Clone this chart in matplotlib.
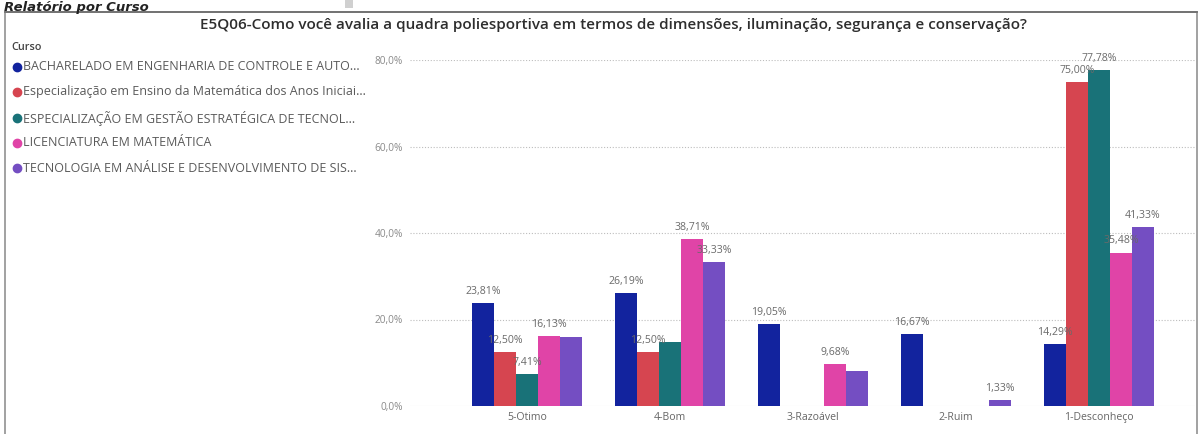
import matplotlib
matplotlib.use("Agg")
import matplotlib.pyplot as plt
from matplotlib.patches import Rectangle
import numpy as np

# ---------------- data ----------------
categories = ["5-Otimo", "4-Bom", "3-Razoável", "2-Ruim", "1-Desconheço"]
series_names = [
    "BACHARELADO EM ENGENHARIA DE CONTROLE E AUTO...",
    "Especialização em Ensino da Matemática dos Anos Iniciai...",
    "ESPECIALIZAÇÃO EM GESTÃO ESTRATÉGICA DE TECNOL...",
    "LICENCIATURA EM MATEMÁTICA",
    "TECNOLOGIA EM ANÁLISE E DESENVOLVIMENTO DE SIS...",
]
bacharelado = [23.81, 26.19, 19.05, 16.67, 14.29]
esp_ensino = [12.50, 12.50, 0.0, 0.0, 75.00]
esp_gestao = [7.41, 14.81, 0.0, 0.0, 77.78]
licenciatura = [16.13, 38.71, 9.68, 0.0, 35.48]
tecnologia = [16.00, 33.33, 8.00, 1.33, 41.33]
series_values = [bacharelado, esp_ensino, esp_gestao, licenciatura, tecnologia]
# data labels hidden by the original chart (category index, series index)
hidden_labels = [(0, 4), (1, 2), (2, 4)]
y_ticks = [0, 20, 40, 60, 80]
y_tick_labels = ["0,0%", "20,0%", "40,0%", "60,0%", "80,0%"]

colors = ["#12239E", "#D64550", "#197278", "#E044A7", "#744EC2"]
title = "E5Q06-Como você avalia a quadra poliesportiva em termos de dimensões, iluminação, segurança e conservação?"
header = "Relatório por Curso"

W, H = 1201, 434
fig = plt.figure(figsize=(W / 100, H / 100), dpi=100)
fig.patch.set_facecolor("white")

def px(x, y):
    return x / W, 1 - y / H

# axes: x from 410 to 1195 px, y from 60 (80%) to 406 (0%)
ax_l, ax_r, ax_t, ax_b = 410, 1195, 60, 406
ax = fig.add_axes([ax_l / W, 1 - ax_b / H, (ax_r - ax_l) / W, (ax_b - ax_t) / H])
ax.set_facecolor("white")

spacing_px = 143.0
first_center = 527.0
x_left = -(first_center - ax_l) / spacing_px
x_right = (len(categories) - 1) + (ax_r - (first_center + spacing_px * (len(categories) - 1))) / spacing_px
ax.set_xlim(x_left, x_right)
ax.set_ylim(0, 80)

bar_w = 22 / spacing_px
n = len(series_values)
x = np.arange(len(categories))
label_font = ["Open Sans", "DejaVu Sans"]
for si, vals in enumerate(series_values):
    offs = (si - (n - 1) / 2) * bar_w
    xs = x + offs
    ax.bar(xs, vals, width=bar_w, color=colors[si], zorder=3, linewidth=0)
    for ci, v in enumerate(vals):
        if v <= 0 or (ci, si) in hidden_labels:
            continue
        ax.text(xs[ci], v + 1.4, f"{v:.2f}%".replace(".", ","), ha="center", va="bottom",
                fontsize=7.6, color="#6a6a6a", family=label_font, zorder=4, clip_on=False)

ax.set_yticks(y_ticks)
ax.set_yticklabels(y_tick_labels, fontsize=7.3, color="#8a8a8a", family=label_font)
ax.set_xticks(x)
ax.set_xticklabels(categories, fontsize=7.6, color="#666666", family=label_font)
ax.tick_params(axis="both", length=0)
ax.tick_params(axis="y", pad=5)
ax.tick_params(axis="x", pad=4)
for ygrid in y_ticks[1:]:
    ax.axhline(ygrid, color="#bdbdbd", linestyle=(0, (1, 1.6)), linewidth=0.8, zorder=1)
ax.axhline(0, color="#e3e3e3", linewidth=0.8, zorder=1)
for sp in ax.spines.values():
    sp.set_visible(False)

# outer frame
frame = Rectangle(px(5, 436), (1197 - 5) / W, (436 - 12) / H, transform=fig.transFigure,
                  fill=False, edgecolor="#9a9a9a", linewidth=1.3, clip_on=False)
fig.patches.append(frame)
fig.add_artist(plt.Line2D([5 / W, 1197 / W], [1 - 12 / H, 1 - 12 / H], transform=fig.transFigure,
                          color="#707070", linewidth=1.3))

# header (at the very top edge, as in the cropped original)
fig.text(*px(4, 10.5), header, fontsize=9.5, fontweight="bold", fontstyle="italic",
         color="#222222", ha="left", va="baseline", family=["DejaVu Sans"])
fig.patches.append(Rectangle(px(345, 8), 8 / W, 8 / H, transform=fig.transFigure,
                             facecolor="#d0d0d0", edgecolor="none"))

# title
fig.text(*px(613, 25), title, fontsize=11.0, color="#2e2e2e", ha="center", va="center",
         family=["Open Sans", "DejaVu Sans"], fontweight="semibold")

# legend
fig.text(*px(11, 47), "Curso", fontsize=7.8, color="#444444", ha="left", va="center",
         family=label_font, fontweight="semibold")
leg_y = [67, 92, 118, 143, 168]
for i, name in enumerate(series_names):
    fx, fy = px(17, leg_y[i])
    fig.add_artist(plt.Line2D([fx], [fy], marker="o", markersize=6, color=colors[i],
                              transform=fig.transFigure, linestyle="none"))
    fig.text(*px(23, leg_y[i]), name, fontsize=9.0, color="#5a5a5a", ha="left", va="center",
             family=label_font)

fig.savefig("out.png", dpi=100, facecolor="white")
